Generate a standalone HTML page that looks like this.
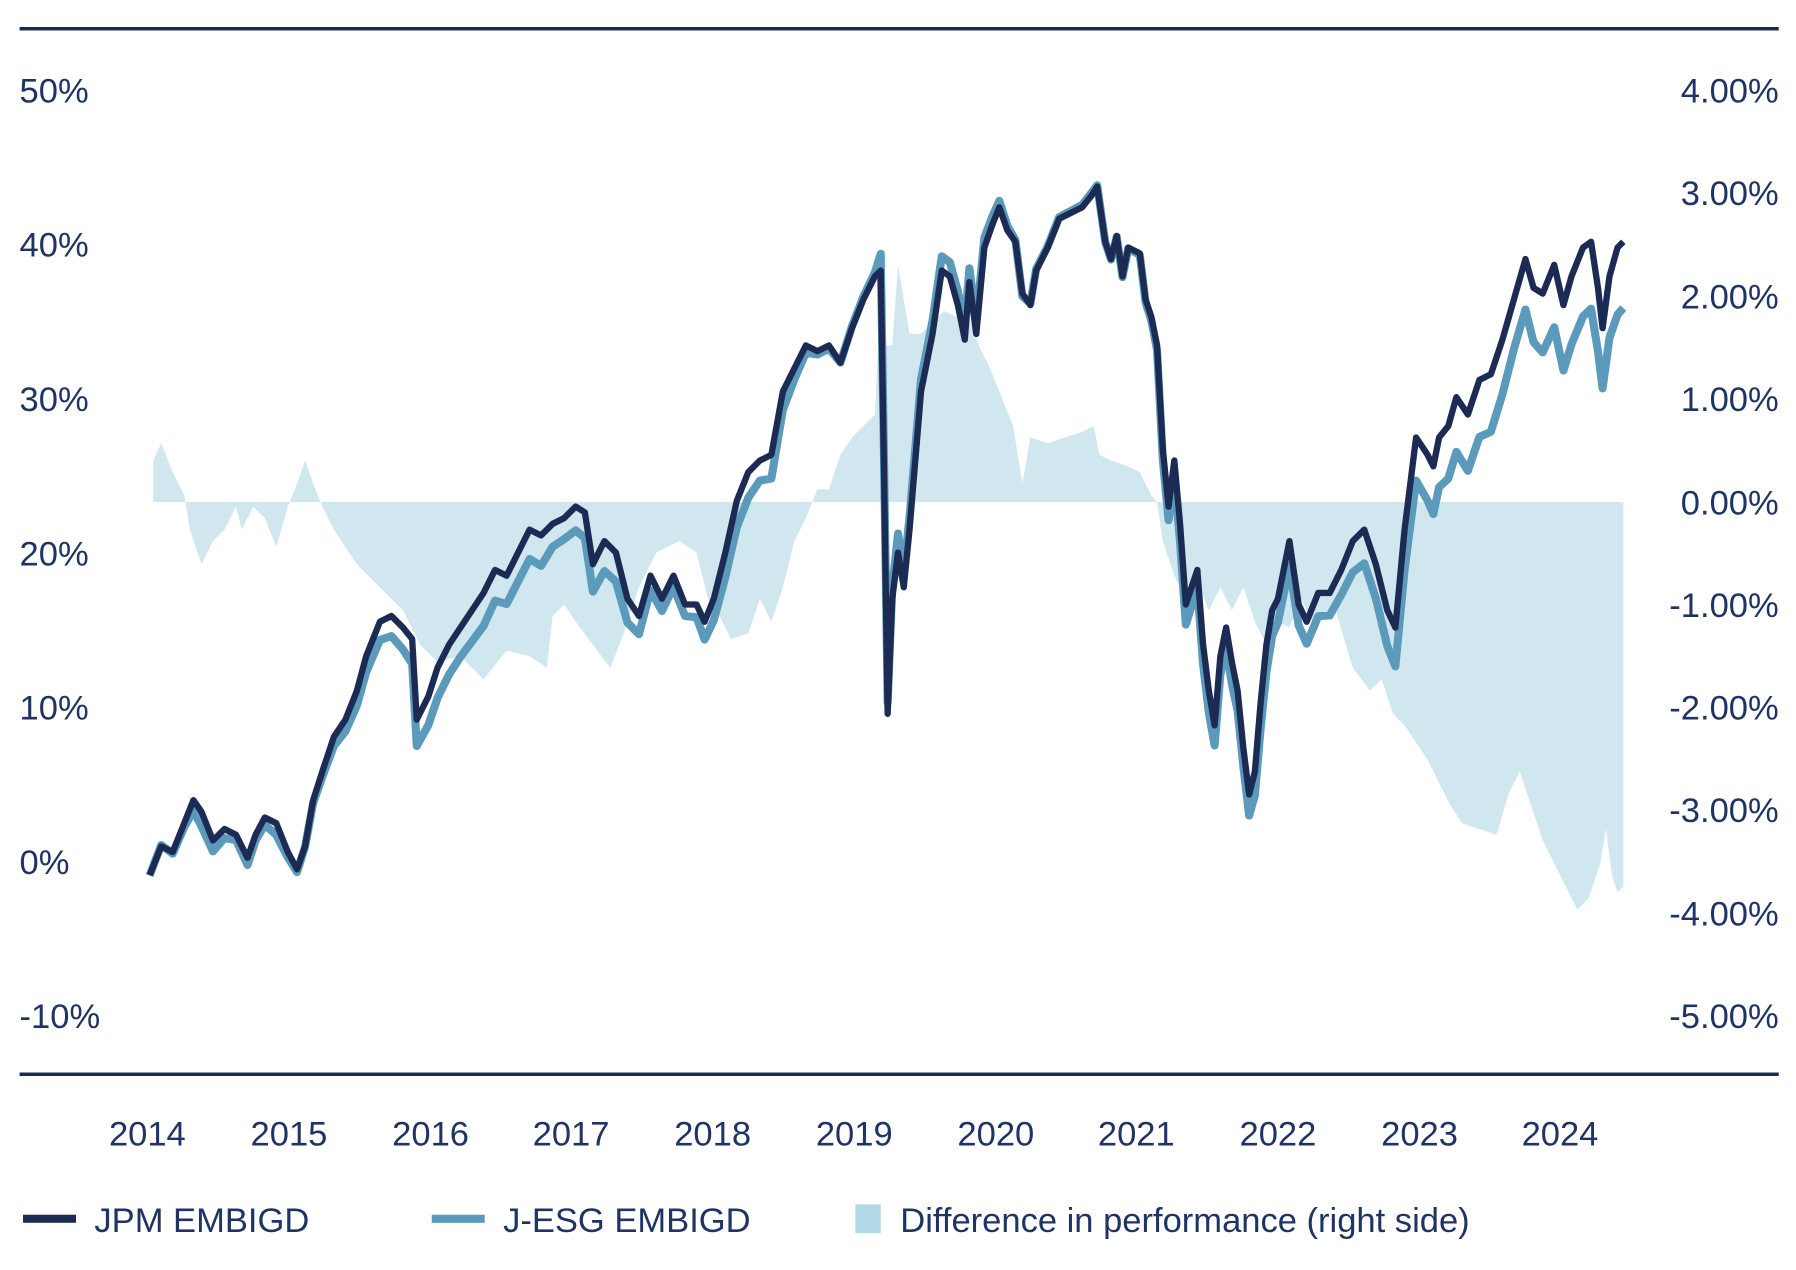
<!DOCTYPE html>
<html><head><meta charset="utf-8"><style>
html,body{margin:0;padding:0;background:#fff;width:1796px;height:1270px;overflow:hidden}
svg{display:block}
text{font-family:"Liberation Sans",sans-serif;fill:#1f3464;font-size:30px}
</style></head><body>
<svg id="s" width="1796" height="1270" viewBox="0 0 1560 1103" preserveAspectRatio="none">
<polygon id="area" fill="#d1e7ef" points=""/>
<polyline id="esg" fill="none" stroke="#5b9aba" stroke-width="7" stroke-linejoin="round" points=""/>
<polyline id="jpm" fill="none" stroke="#1c2b54" stroke-width="5.5" stroke-linejoin="round" points=""/>
<line x1="17" y1="25" x2="1545" y2="25" stroke="#1c2b54" stroke-width="3"/>
<line x1="17" y1="933" x2="1545" y2="933" stroke="#1c2b54" stroke-width="3"/>
<g>
<text x="17" y="89">50%</text><text x="17" y="223">40%</text><text x="17" y="357">30%</text>
<text x="17" y="491">20%</text><text x="17" y="625">10%</text><text x="17" y="759">0%</text><text x="17" y="893">-10%</text>
</g>
<g text-anchor="end">
<text x="1545" y="89">4.00%</text><text x="1545" y="178">3.00%</text><text x="1545" y="268">2.00%</text>
<text x="1545" y="357">1.00%</text><text x="1545" y="447">0.00%</text><text x="1545" y="536">-1.00%</text>
<text x="1545" y="625">-2.00%</text><text x="1545" y="714">-3.00%</text><text x="1545" y="804">-4.00%</text><text x="1545" y="893">-5.00%</text>
</g>
<g text-anchor="middle">
<text x="128" y="995">2014</text><text x="251" y="995">2015</text><text x="374" y="995">2016</text><text x="496" y="995">2017</text>
<text x="619" y="995">2018</text><text x="742" y="995">2019</text><text x="865" y="995">2020</text><text x="987" y="995">2021</text>
<text x="1110" y="995">2022</text><text x="1233" y="995">2023</text><text x="1355" y="995">2024</text>
</g>
<rect x="20" y="1055" width="46" height="7" fill="#1c2b54"/>
<text x="82" y="1070">JPM EMBIGD</text>
<rect x="375" y="1055" width="46" height="7" fill="#5b9aba"/>
<text x="437" y="1070">J-ESG EMBIGD</text>
<rect x="743" y="1046" width="22" height="25" fill="#b3d9e6"/>
<text x="782" y="1070">Difference in performance (right side)</text>
</svg>
<script>
var J=[[130,760],[140,735],[150,740],[160,715],[168,695],[175,705],[185,730],[195,720],[205,725],[215,745],[222,725],[230,710],[240,715],[250,740],[258,755],[265,735],[272,695],[280,670],[290,640],[300,625],[310,600],[318,570],[330,540],[340,535],[350,545],[358,555],[362,625],[372,605],[380,580],[390,560],[400,545],[410,530],[420,515],[430,495],[440,500],[450,480],[460,460],[470,465],[480,455],[490,450],[500,440],[508,445],[515,490],[525,470],[535,480],[545,520],[555,535],[565,500],[575,520],[585,500],[595,525],[605,525],[612,540],[620,520],[630,480],[640,435],[650,410],[660,400],[670,395],[680,340],[690,320],[700,300],[710,305],[720,300],[730,315],[740,285],[750,260],[760,240],[765,235],[768,420],[771,620],[775,520],[780,480],[785,510],[790,460],[795,400],[800,340],[810,290],[818,235],[825,240],[832,265],[838,295],[842,245],[848,290],[855,215],[862,195],[868,180],[875,200],[882,210],[888,255],[895,265],[900,235],[910,215],[920,190],[930,185],[940,180],[948,170],[953,162],[960,210],[965,225],[970,205],[975,240],[980,215],[990,220],[995,260],[1000,275],[1005,300],[1010,390],[1015,440],[1020,400],[1025,455],[1030,525],[1040,495],[1045,560],[1050,600],[1055,630],[1060,570],[1065,545],[1070,575],[1075,600],[1080,650],[1085,690],[1090,670],[1095,610],[1100,560],[1105,530],[1110,520],[1120,470],[1128,525],[1135,540],[1145,515],[1155,515],[1165,495],[1175,470],[1185,460],[1195,490],[1205,530],[1212,545],[1220,460],[1225,420],[1230,380],[1240,395],[1245,405],[1250,380],[1258,370],[1265,345],[1275,360],[1285,330],[1295,325],[1305,295],[1315,260],[1325,225],[1332,250],[1340,255],[1350,230],[1358,265],[1365,240],[1375,215],[1382,210],[1388,250],[1392,285],[1398,240],[1405,215],[1410,210]];
var D=[[133,400],[140,385],[150,410],[160,430],[165,460],[175,490],[185,470],[195,460],[205,440],[210,460],[220,440],[230,450],[240,475],[250,440],[258,420],[265,400],[272,420],[280,440],[290,460],[310,490],[330,510],[350,530],[365,560],[380,575],[400,570],[420,590],[440,565],[460,570],[475,580],[480,535],[490,525],[500,540],[515,560],[530,580],[540,555],[555,510],[570,480],[590,470],[605,480],[615,520],[625,535],[635,555],[650,550],[660,520],[670,540],[680,510],[690,470],[700,450],[710,425],[720,425],[730,395],[740,380],[750,370],[760,360],[765,250],[770,300],[775,300],[780,230],[785,260],[790,290],[800,290],[810,280],[820,270],[830,275],[840,270],[850,300],[860,320],[870,345],[880,370],[888,420],[895,380],[910,385],[925,380],[940,375],[950,370],[955,395],[965,400],[980,405],[990,410],[1000,430],[1005,436],[1010,470],[1020,500],[1030,520],[1040,505],[1050,530],[1060,510],[1070,530],[1080,510],[1090,540],[1100,560],[1110,540],[1120,545],[1130,520],[1140,540],[1160,530],[1175,580],[1190,600],[1200,590],[1210,620],[1220,630],[1230,645],[1240,660],[1250,680],[1260,700],[1270,715],[1285,720],[1300,725],[1310,690],[1320,670],[1330,700],[1340,730],[1350,750],[1360,770],[1370,790],[1380,780],[1390,750],[1395,720],[1400,760],[1405,775],[1410,770]];
function dAt(x){if(x<=D[0][0])return D[0][1];for(var i=1;i<D.length;i++){if(x<=D[i][0]){var a=D[i-1],b=D[i];return a[1]+(b[1]-a[1])*(x-a[0])/(b[0]-a[0]);}}return D[D.length-1][1];}
document.getElementById('jpm').setAttribute('points',J.map(function(p){return p.join(',')}).join(' '));
document.getElementById('esg').setAttribute('points',J.map(function(p){var g=dAt(p[0])-436;return p[0]+','+(p[1]+g*(g<0?0.1:0.16)+4)}).join(' '));
document.getElementById('area').setAttribute('points','133,436 '+D.map(function(p){return p.join(',')}).join(' ')+' 1410,436');
</script>
</body></html>
